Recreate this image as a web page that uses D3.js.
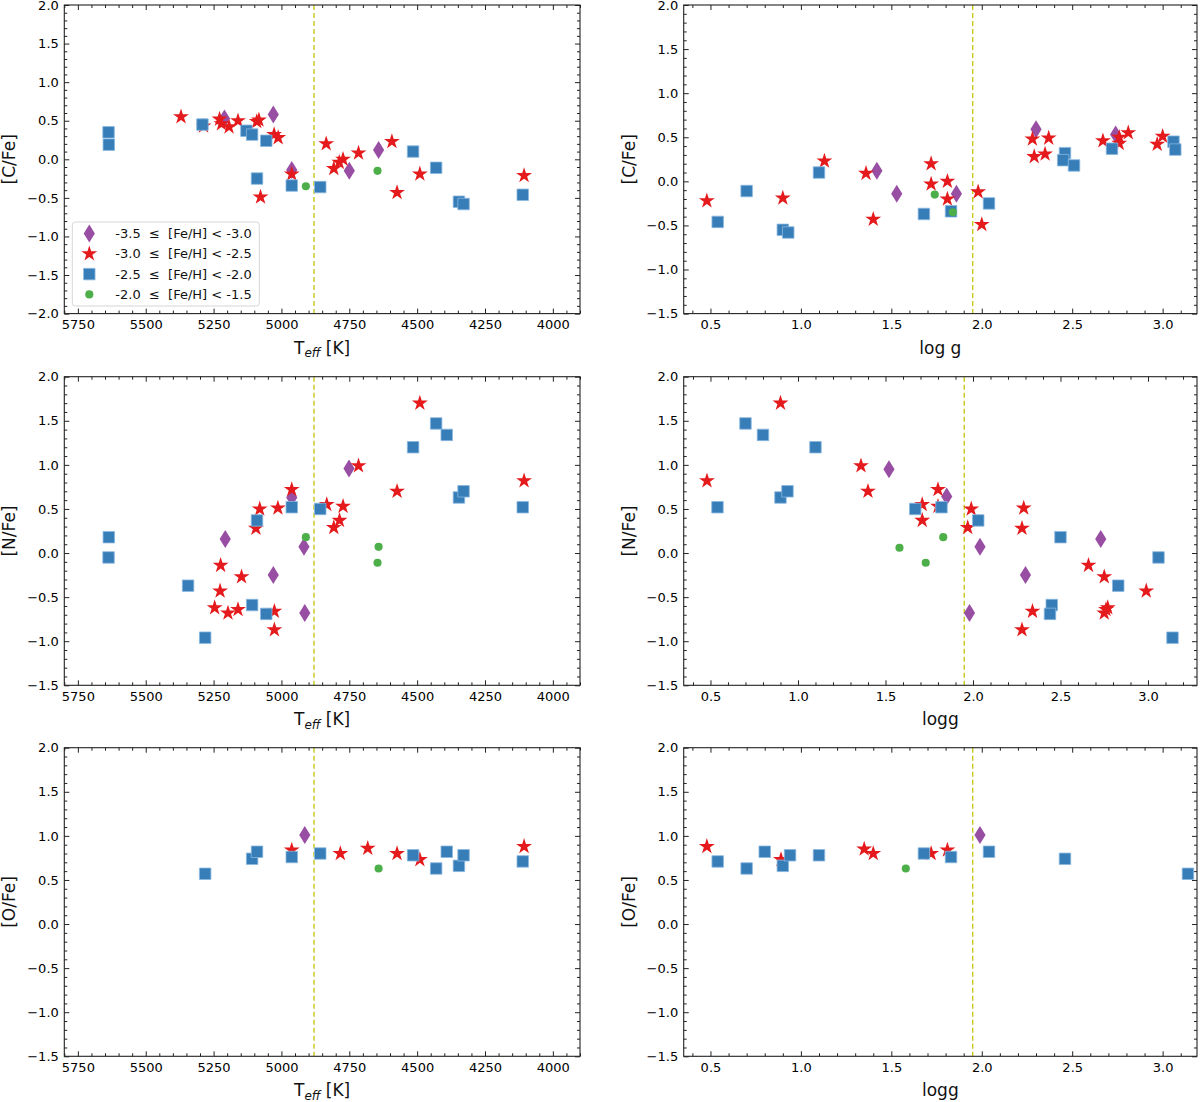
<!DOCTYPE html>
<html>
<head>
<meta charset="utf-8">
<script src="https://cdn.jsdelivr.net/npm/d3@7"></script>
<style>
body { margin: 0; background: #fff; }
text { font-family: "DejaVu Sans", sans-serif; }
</style>
</head>
<body>
<script>
// groups / legend
var groupLabels = ["-3.5  \u2264  [Fe/H] < -3.0", "-3.0  \u2264  [Fe/H] < -2.5",
                   "-2.5  \u2264  [Fe/H] < -2.0", "-2.0  \u2264  [Fe/H] < -1.5"];
var groupColors = ["#984ea3", "#e41a1c", "#377eb8", "#4daf4a"];

// tick labels
var teffTicks = [5750, 5500, 5250, 5000, 4750, 4500, 4250, 4000];
var loggTicks = [0.5, 1.0, 1.5, 2.0, 2.5, 3.0];
var yTicksWide = [-2.0, -1.5, -1.0, -0.5, 0.0, 0.5, 1.0, 1.5, 2.0];
var yTicks = [-1.5, -1.0, -0.5, 0.0, 0.5, 1.0, 1.5, 2.0];

// [C/Fe] vs Teff
var cTeffDia = [[5210,0.53],[5030,0.58],[4962,-0.14],[4750,-0.15],[4642,0.12]];
var cTeffStar = [[5370,0.55],[5287,0.43],[5228,0.52],[5221,0.46],[5193,0.42],[5160,0.50],[5091,0.49],[5083,0.51],
  [5027,0.32],[5012,0.28],[4962,-0.19],[5077,-0.49],[4835,0.20],[4807,-0.12],[4787,-0.04],[4773,0.00],
  [4716,0.08],[4593,0.23],[4574,-0.43],[4490,-0.19],[4106,-0.21]];
var cTeffSq = [[5637,0.35],[5636,0.19],[5291,0.45],[5129,0.37],[5108,0.32],[5056,0.24],[5090,-0.25],[4962,-0.34],
  [4857,-0.36],[4515,0.10],[4430,-0.11],[4346,-0.55],[4329,-0.58],[4111,-0.46]];
var cTeffDot = [[4910,-0.35],[4646,-0.15]];

// [C/Fe] vs log g
var cLoggDia = [[1.42,0.12],[1.53,-0.14],[1.86,-0.14],[2.30,0.59],[2.74,0.53]];
var cLoggStar = [[0.48,-0.22],[0.90,-0.19],[1.13,0.23],[1.36,0.09],[1.40,-0.43],[1.72,0.20],[1.72,-0.03],[1.81,0.00],
  [1.81,-0.20],[1.98,-0.12],[2.00,-0.49],[2.28,0.48],[2.29,0.28],[2.35,0.31],[2.37,0.49],[2.67,0.46],
  [2.76,0.43],[2.76,0.50],[2.81,0.55],[2.97,0.42],[3.00,0.51]];
var cLoggSq = [[0.54,-0.46],[0.70,-0.11],[0.90,-0.55],[0.93,-0.58],[1.10,0.10],[1.68,-0.37],[1.83,-0.34],[2.04,-0.25],
  [2.46,0.32],[2.45,0.24],[2.51,0.18],[2.72,0.37],[3.06,0.45],[3.07,0.36]];
var cLoggDot = [[1.74,-0.15],[1.84,-0.35]];

// [N/Fe] vs Teff
var nTeffDia = [[5207,0.16],[5030,-0.25],[4962,0.63],[4917,0.07],[4914,-0.68],[4751,0.96]];
var nTeffStar = [[4490,1.70],[4716,0.99],[4106,0.82],[4574,0.70],[4962,0.72],[5080,0.50],[5013,0.51],[4833,0.55],
  [4773,0.53],[4786,0.37],[4807,0.29],[5094,0.28],[5224,-0.14],[5147,-0.27],[5226,-0.43],[5246,-0.62],
  [5197,-0.68],[5160,-0.64],[5026,-0.66],[5026,-0.87]];
var nTeffSq = [[5636,0.18],[5637,-0.05],[5344,-0.37],[5281,-0.96],[5108,-0.59],[5056,-0.69],[5090,0.37],[4962,0.52],
  [4857,0.50],[4515,1.20],[4430,1.47],[4391,1.34],[4346,0.63],[4329,0.70],[4111,0.52]];
var nTeffDot = [[4910,0.18],[4642,0.07],[4646,-0.11]];

// [N/Fe] vs logg
var nLoggDia = [[1.52,0.95],[1.85,0.64],[2.04,0.07],[1.98,-0.68],[2.30,-0.25],[2.73,0.16]];
var nLoggStar = [[0.48,0.82],[0.90,1.70],[1.36,0.99],[1.40,0.70],[1.71,0.55],[1.71,0.37],[1.80,0.72],[1.80,0.53],
  [1.99,0.50],[1.97,0.29],[2.29,0.51],[2.28,0.28],[2.28,-0.87],[2.34,-0.66],[2.66,-0.14],[2.75,-0.27],
  [2.75,-0.68],[2.77,-0.62],[2.76,-0.64],[2.99,-0.43]];
var nLoggSq = [[0.54,0.52],[0.70,1.47],[0.80,1.34],[0.90,0.63],[0.94,0.70],[1.10,1.20],[1.67,0.50],[1.82,0.52],
  [2.03,0.37],[2.50,0.18],[2.45,-0.59],[2.44,-0.69],[2.83,-0.37],[3.06,-0.05],[3.14,-0.96]];
var nLoggDot = [[1.58,0.06],[1.73,-0.11],[1.83,0.18]];

// [O/Fe] vs Teff
var oTeffDia = [[4914,1.01]];
var oTeffStar = [[4962,0.84],[4783,0.80],[4682,0.86],[4574,0.80],[4490,0.73],[4106,0.88]];
var oTeffSq = [[5281,0.57],[5108,0.74],[5090,0.82],[4962,0.76],[4857,0.80],[4515,0.78],[4430,0.63],[4391,0.82],
  [4346,0.66],[4329,0.78],[4111,0.71]];
var oTeffDot = [[4642,0.63]];

// [O/Fe] vs logg
var oLoggDia = [[1.99,1.01]];
var oLoggStar = [[0.48,0.88],[0.89,0.73],[1.35,0.85],[1.40,0.80],[1.72,0.80],[1.81,0.84]];
var oLoggSq = [[0.54,0.71],[0.70,0.63],[0.80,0.82],[0.90,0.66],[0.94,0.78],[1.10,0.78],[1.68,0.80],[1.83,0.76],
  [2.04,0.82],[2.46,0.74],[3.14,0.57]];
var oLoggDot = [[1.58,0.63]];

// dashed separators
var teffCut = 4880;
var loggCut = 1.95;

//layout
var colX0 = [64.3, 683.7], colX1 = [580, 1197];
var rowY0 = [5, 376.7, 747.7], plotH = 308.6;

var svg = d3.select("body").append("svg")
    .attr("width", 1200)
    .attr("height", 1102);

// marker shapes
var shapes = [
  function() { return "M0,-9L5.6,0L0,9L-5.6,0Z"; },
  d3.symbol(d3.symbolStar, 78),
  d3.symbol(d3.symbolSquare, 132),
  d3.symbol(d3.symbolCircle, 52)
];

var panels = [
  {col:0, row:0, xdom:[5800,3900], ydom:[-2,2], xt:teffTicks, yt:yTicksWide, ylab:"[C/Fe]", xlab:"teff",
   data:[cTeffDia, cTeffStar, cTeffSq, cTeffDot], cut:teffCut, legend:true},
  {col:1, row:0, xdom:[0.352,3.19], ydom:[-1.5,2], xt:loggTicks, yt:yTicks, ylab:"[C/Fe]", xlab:"log g",
   data:[cLoggDia, cLoggStar, cLoggSq, cLoggDot], cut:loggCut},
  {col:0, row:1, xdom:[5800,3900], ydom:[-1.5,2], xt:teffTicks, yt:yTicks, ylab:"[N/Fe]", xlab:"teff",
   data:[nTeffDia, nTeffStar, nTeffSq, nTeffDot], cut:teffCut},
  {col:1, row:1, xdom:[0.347,3.28], ydom:[-1.5,2], xt:loggTicks, yt:yTicks, ylab:"[N/Fe]", xlab:"logg",
   data:[nLoggDia, nLoggStar, nLoggSq, nLoggDot], cut:loggCut},
  {col:0, row:2, xdom:[5800,3900], ydom:[-1.5,2], xt:teffTicks, yt:yTicks, ylab:"[O/Fe]", xlab:"teff",
   data:[oTeffDia, oTeffStar, oTeffSq, oTeffDot], cut:teffCut},
  {col:1, row:2, xdom:[0.352,3.19], ydom:[-1.5,2], xt:loggTicks, yt:yTicks, ylab:"[O/Fe]", xlab:"logg",
   data:[oLoggDia, oLoggStar, oLoggSq, oLoggDot], cut:loggCut}
];

function minorTicks(dom, step, majors) {
  var lo = Math.min(dom[0], dom[1]), hi = Math.max(dom[0], dom[1]);
  var out = [];
  for (var i = Math.ceil(lo / step - 1e-9); i * step <= hi + 1e-9; i++) {
    var v = +(i * step).toFixed(4);
    if (!majors.some(function(m) { return Math.abs(m - v) < 1e-6; })) out.push(v);
  }
  return out;
}

function styleAxis(g) {
  g.select(".domain").remove();
  g.attr("font-size", 13).attr("font-family", "DejaVu Sans, sans-serif");
  g.selectAll(".tick line").attr("stroke", "#222");
}

panels.forEach(function(p, pi) {
  var w = colX1[p.col] - colX0[p.col];
  var h = plotH;
  var x = d3.scaleLinear().domain(p.xdom).range([0, w]);
  var y = d3.scaleLinear().domain(p.ydom).range([h, 0]);
  var isTeff = p.xlab == "teff";
  var xfmt = isTeff ? d3.format("d") : d3.format(".1f");
  var xMinor = minorTicks(p.xdom, isTeff ? 50 : 0.1, p.xt);
  var yMinor = minorTicks(p.ydom, 0.1, p.yt);

  var g = svg.append("g")
      .attr("transform", "translate(" + colX0[p.col] + "," + rowY0[p.row] + ")");

  g.append("clipPath").attr("id", "clip" + pi)
    .append("rect").attr("width", w).attr("height", h);

  // major ticks with labels
  g.append("g").attr("transform", "translate(0," + h + ")")
    .call(d3.axisBottom(x).tickValues(p.xt).tickFormat(xfmt).tickSizeInner(-5).tickSizeOuter(0).tickPadding(6))
    .call(styleAxis);
  g.append("g")
    .call(d3.axisLeft(y).tickValues(p.yt).tickFormat(d3.format(".1f")).tickSizeInner(-5).tickSizeOuter(0).tickPadding(5.5))
    .call(styleAxis);
  // ticks on top and right
  g.append("g").call(d3.axisTop(x).tickValues(p.xt).tickFormat("").tickSizeInner(-5).tickSizeOuter(0)).call(styleAxis);
  g.append("g").attr("transform", "translate(" + w + ",0)")
    .call(d3.axisRight(y).tickValues(p.yt).tickFormat("").tickSizeInner(-5).tickSizeOuter(0)).call(styleAxis);
  // minor ticks
  g.append("g").attr("transform", "translate(0," + h + ")")
    .call(d3.axisBottom(x).tickValues(xMinor).tickFormat("").tickSizeInner(-3).tickSizeOuter(0)).call(styleAxis);
  g.append("g").call(d3.axisTop(x).tickValues(xMinor).tickFormat("").tickSizeInner(-3).tickSizeOuter(0)).call(styleAxis);
  g.append("g").call(d3.axisLeft(y).tickValues(yMinor).tickFormat("").tickSizeInner(-3).tickSizeOuter(0)).call(styleAxis);
  g.append("g").attr("transform", "translate(" + w + ",0)")
    .call(d3.axisRight(y).tickValues(yMinor).tickFormat("").tickSizeInner(-3).tickSizeOuter(0)).call(styleAxis);

  // dashed line
  g.append("line")
    .attr("x1", x(p.cut)).attr("x2", x(p.cut))
    .attr("y1", 0).attr("y2", h)
    .attr("stroke", "#c9c91a")
    .attr("stroke-width", 1.4)
    .attr("stroke-dasharray", "5,3");

  // markers
  var marks = g.append("g").attr("clip-path", "url(#clip" + pi + ")");
  p.data.forEach(function(arr, gi) {
    marks.selectAll("path.m" + gi)
      .data(arr)
      .enter()
      .append("path")
      .attr("class", "m" + gi)
      .attr("d", shapes[gi])
      .attr("transform", function(d) { return "translate(" + x(d[0]) + "," + y(d[1]) + ")"; })
      .attr("fill", groupColors[gi])
      .attr("stroke", gi == 2 ? "#8ab8e0" : "none")
      .attr("stroke-width", gi == 2 ? 0.8 : 0);
  });

  // frame
  g.append("rect")
    .attr("width", w).attr("height", h)
    .attr("fill", "none")
    .attr("stroke", "#222")
    .attr("stroke-width", 1.1);

  // axis labels
  var xl = g.append("text")
    .attr("x", w / 2)
    .attr("y", h + 40)
    .attr("text-anchor", "middle")
    .attr("font-size", 17)
    .attr("fill", "#111");
  if (isTeff) {
    xl.append("tspan").text("T");
    xl.append("tspan").attr("font-size", 12).attr("font-style", "italic").attr("dy", 3.5).text("eff");
    xl.append("tspan").attr("dy", -3.5).text(" [K]");
  } else {
    xl.text(p.xlab);
  }
  g.append("text")
    .attr("transform", "translate(-55," + (h / 2) + ") rotate(-90)")
    .attr("text-anchor", "middle")
    .attr("dominant-baseline", "central")
    .attr("font-size", 17)
    .attr("fill", "#111")
    .text(p.ylab);

  if (p.legend) {
    var lg = g.append("g").attr("transform", "translate(8,217)");
    lg.append("rect")
      .attr("width", 187).attr("height", 84)
      .attr("rx", 3)
      .attr("fill", "white").attr("fill-opacity", 0.85)
      .attr("stroke", "#d6d6d6");
    groupLabels.forEach(function(lab, gi) {
      var yy = 11.5 + gi * 20.3;
      lg.append("path")
        .attr("d", shapes[gi])
        .attr("transform", "translate(17," + yy + ")")
        .attr("fill", groupColors[gi])
        .attr("stroke", gi == 2 ? "#8ab8e0" : "none")
        .attr("stroke-width", gi == 2 ? 0.8 : 0);
      lg.append("text")
        .attr("x", 43).attr("y", yy)
        .attr("dominant-baseline", "central")
        .attr("font-size", 13)
        .attr("fill", "#111")
        .style("white-space", "pre")
        .text(lab);
    });
  }
});
</script>
</body>
</html>
